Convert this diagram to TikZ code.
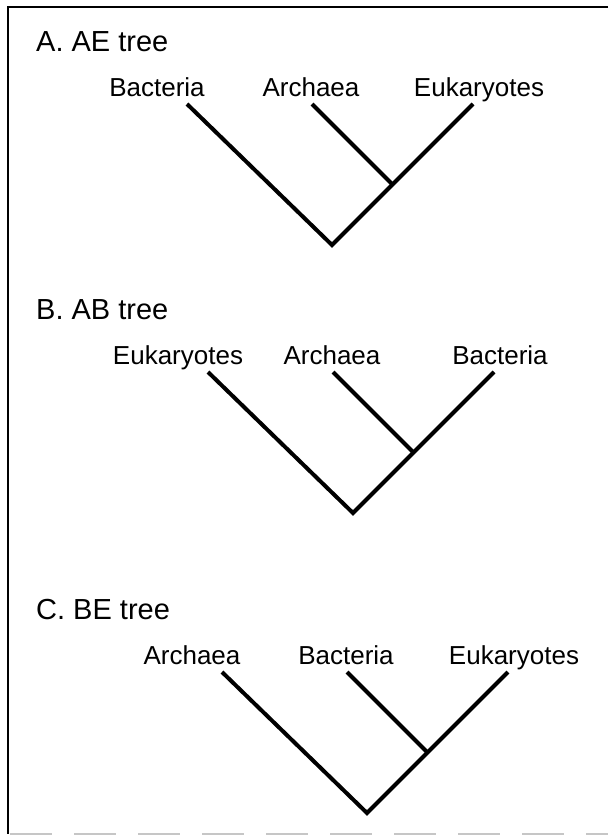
\documentclass[tikz,border=0pt]{standalone}
\usepackage{fontspec}
\setmainfont{Liberation Sans}
\begin{document}
\begin{tikzpicture}[x=1pt,y=-1pt,
  branch/.style={line width=4pt},
  taxon/.style={font=\fontsize{26}{30}\selectfont, anchor=base, inner sep=0pt},
  treetitle/.style={font=\fontsize{29}{34}\selectfont, anchor=base west, inner sep=0pt},
  frameline/.style={line width=2.5pt}]
\useasboundingbox (0,0) rectangle (608,835);
% Marco (sin lado derecho; borde inferior gris y roto)
\draw[frameline] (608,7) -- (8,7) -- (8,834);
\draw[gray!45, line width=2pt, dash pattern=on 42pt off 22pt] (10,834) -- (608,834);

% Tres árboles: raíz, unión del par hermano y puntas de las ramas
\foreach \t/\rx/\ry/\ttl/\ta/\tb/\tc in {
    A/332/245/{A. AE tree}/Bacteria/Archaea/Eukaryotes,
    B/353/513/{B. AB tree}/Eukaryotes/Archaea/Bacteria,
    C/367/813/{C. BE tree}/Archaea/Bacteria/Eukaryotes} {
  \coordinate (root\t) at (\rx,\ry);
  \coordinate (join\t) at (\rx+60,\ry-61);
  \coordinate (tipL\t) at (\rx-145,\ry-141);
  \coordinate (tipM\t) at (\rx-20,\ry-141);
  \coordinate (tipR\t) at (\rx+141,\ry-141);
  % Título y taxones
  \node[treetitle] (title\t) at (36,\ry-194) {\ttl};
  \node[taxon] (taxL\t) at (\rx-175,\ry-149) {\ta};
  \node[taxon] (taxM\t) at (\rx-21,\ry-149) {\tb};
  \node[taxon] (taxR\t) at (\rx+147,\ry-149) {\tc};
  % Ramas
  \draw[branch] (tipL\t) -- (root\t) -- (tipR\t);
  \draw[branch] (tipM\t) -- (join\t);
}
\end{tikzpicture}
\end{document}
